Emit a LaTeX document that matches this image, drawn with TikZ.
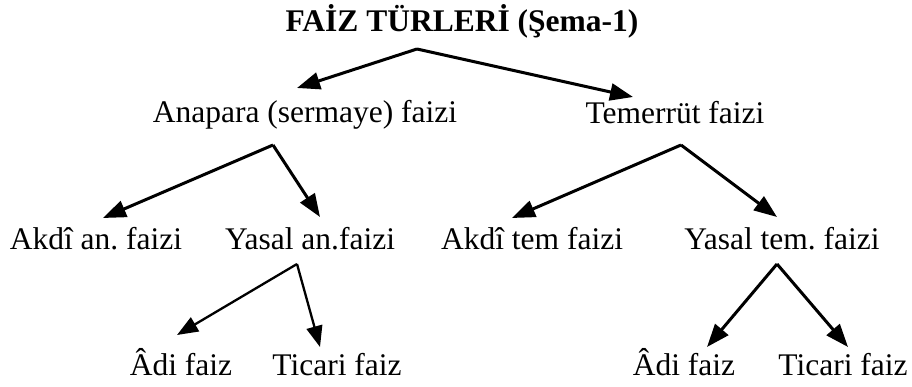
\documentclass[tikz,border=0pt]{standalone}
\usepackage{fontspec}
\setmainfont{Liberation Serif}
\usetikzlibrary{arrows.meta}
\frenchspacing
\begin{document}
\begin{tikzpicture}[x=1pt,y=-1pt,
  lbl/.style={anchor=base,inner sep=0pt,font=\fontsize{31.5}{36}\selectfont},
  ttl/.style={anchor=base,inner sep=0pt,font=\fontsize{31.5}{36}\selectfont\bfseries},
  arr/.style={line width=3pt,-{Triangle[length=23pt,width=17pt]}},
  arrs/.style={line width=2.3pt,-{Triangle[length=21pt,width=16pt]}}]
\useasboundingbox (0,0) rectangle (912,387);
% texts
\node[ttl] (title) at (462,32) {FAİZ TÜRLERİ (Şema-1)};
\node[lbl] (ana) at (305,123) {Anapara (sermaye) faizi};
\node[lbl] (tem) at (675,124) {Temerrüt faizi};
\node[lbl] (akan) at (96,250) {Akdî an. faizi};
\node[lbl] (yasan) at (310,250) {Yasal an.faizi};
\node[lbl] (aktem) at (532,250) {Akdî tem faizi};
\node[lbl] (yastem) at (782,250) {Yasal tem. faizi};
\node[lbl] (adi1) at (181,375) {Âdi faiz};
\node[lbl] (tic1) at (337,375) {Ticari faiz};
\node[lbl] (adi2) at (684,375) {Âdi faiz};
\node[lbl] (tic2) at (843,375) {Ticari faiz};
% connector points
\coordinate (s0) at (417,49);
\coordinate (e0a) at (297,88);
\coordinate (e0b) at (633,97);
\coordinate (s1) at (273,145);
\coordinate (e1a) at (103,218);
\coordinate (e1b) at (320,217);
\coordinate (s2) at (681,145);
\coordinate (e2a) at (512,218);
\coordinate (e2b) at (777,217);
\coordinate (s3) at (297,264);
\coordinate (e3a) at (177,335);
\coordinate (e3b) at (320,347);
\coordinate (s4) at (777,264);
\coordinate (e4a) at (707,347);
\coordinate (e4b) at (848,347);
% connectors
\draw[arr] (s0) -- (e0a);
\draw[arr] (s0) -- (e0b);
\draw[arr] (s1) -- (e1a);
\draw[arr] (s1) -- (e1b);
\draw[arr] (s2) -- (e2a);
\draw[arr] (s2) -- (e2b);
\draw[arrs] (s3) -- (e3a);
\draw[arrs] (s3) -- (e3b);
\draw[arr] (s4) -- (e4a);
\draw[arr] (s4) -- (e4b);
\end{tikzpicture}
\end{document}
